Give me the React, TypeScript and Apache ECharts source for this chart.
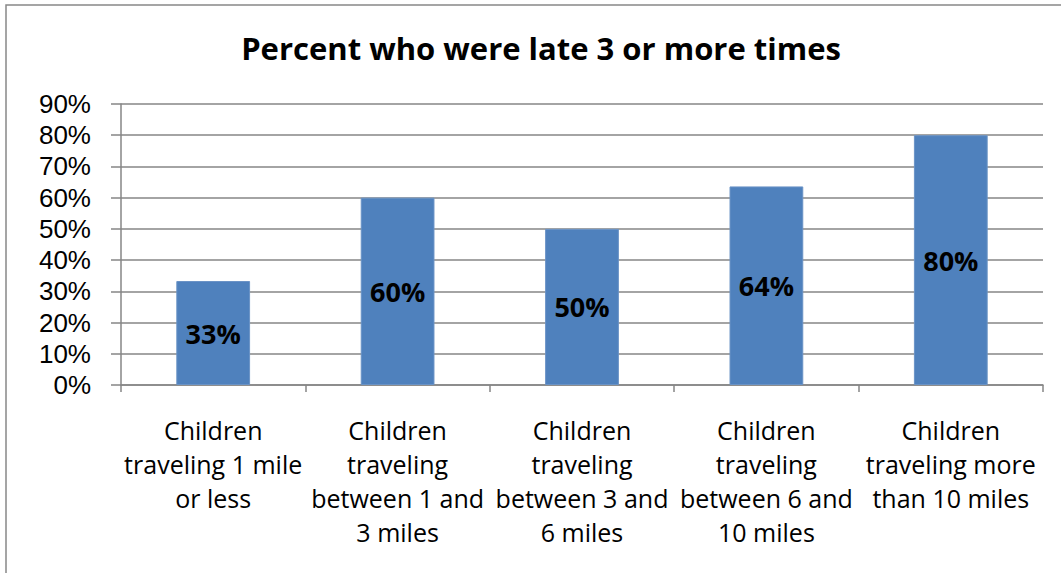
import React, { useEffect, useRef } from "react";
import * as echarts from "echarts";

const titleText = "Percent who were late 3 or more times";
const categories = [
  "Children\ntraveling 1 mile\nor less",
  "Children\ntraveling\nbetween 1 and\n3 miles",
  "Children\ntraveling\nbetween 3 and\n6 miles",
  "Children\ntraveling\nbetween 6 and\n10 miles",
  "Children\ntraveling more\nthan 10 miles",
];
const values = [33.3, 60, 50, 63.6, 80];
const yTicks = { min: 0, max: 90, interval: 10 };

const FONT = "'Open Sans', 'Noto Sans', sans-serif";
const YFONT = "'Liberation Sans', Arial, sans-serif";

export default function App() {
  const ref = useRef<HTMLDivElement>(null);
  useEffect(() => {
    const chart = echarts.init(ref.current!, null, { renderer: "svg" });
    chart.setOption({
      animation: false,
      backgroundColor: "#ffffff",
      title: {
        text: titleText,
        left: 536,
        textAlign: "center",
        top: 27,
        textStyle: { fontFamily: FONT, fontSize: 31, fontWeight: "bold", color: "#000" },
      },
      graphic: [
        {
          type: "rect",
          shape: { x: 6, y: 5, width: 1100, height: 620 },
          style: { fill: "none", stroke: "#888", lineWidth: 1.5 },
          silent: true,
        },
      ],
      grid: { left: 121, right: 18, top: 104, bottom: 188 },
      xAxis: {
        type: "category",
        data: categories,
        axisLine: { lineStyle: { color: "#868686", width: 1.5 } },
        axisTick: { show: true, length: 7, lineStyle: { color: "#868686", width: 1.5 } },
        axisLabel: {
          interval: 0,
          margin: 28,
          fontFamily: FONT,
          fontSize: 25,
          lineHeight: 34,
          color: "#000",
        },
      },
      yAxis: {
        type: "value",
        min: yTicks.min,
        max: yTicks.max,
        interval: yTicks.interval,
        axisLine: { show: true, lineStyle: { color: "#868686", width: 1.5 } },
        axisTick: { show: true, length: 10, lineStyle: { color: "#868686", width: 1.5 } },
        splitLine: { lineStyle: { color: "#868686", width: 1.5 } },
        axisLabel: {
          margin: 30,
          fontFamily: YFONT,
          fontSize: 26,
          lineHeight: 28,
          color: "#000",
          formatter: (v: number) => `${v}%`,
        },
      },
      series: [
        {
          type: "bar",
          data: values,
          barWidth: "40%",
          itemStyle: { color: "#4F81BD", borderColor: "#6a93c6", borderWidth: 1 },
          label: {
            show: true,
            position: "inside",
            fontFamily: FONT,
            fontSize: 27,
            fontWeight: "bold",
            color: "#000",
            formatter: (p: any) => `${Math.round(p.value)}%`,
          },
        },
      ],
    });
    return () => chart.dispose();
  }, []);
  return (
    <div
      ref={ref}
      style={{ position: "fixed", left: 0, top: 0, width: 1061, height: 573 }}
    />
  );
}
